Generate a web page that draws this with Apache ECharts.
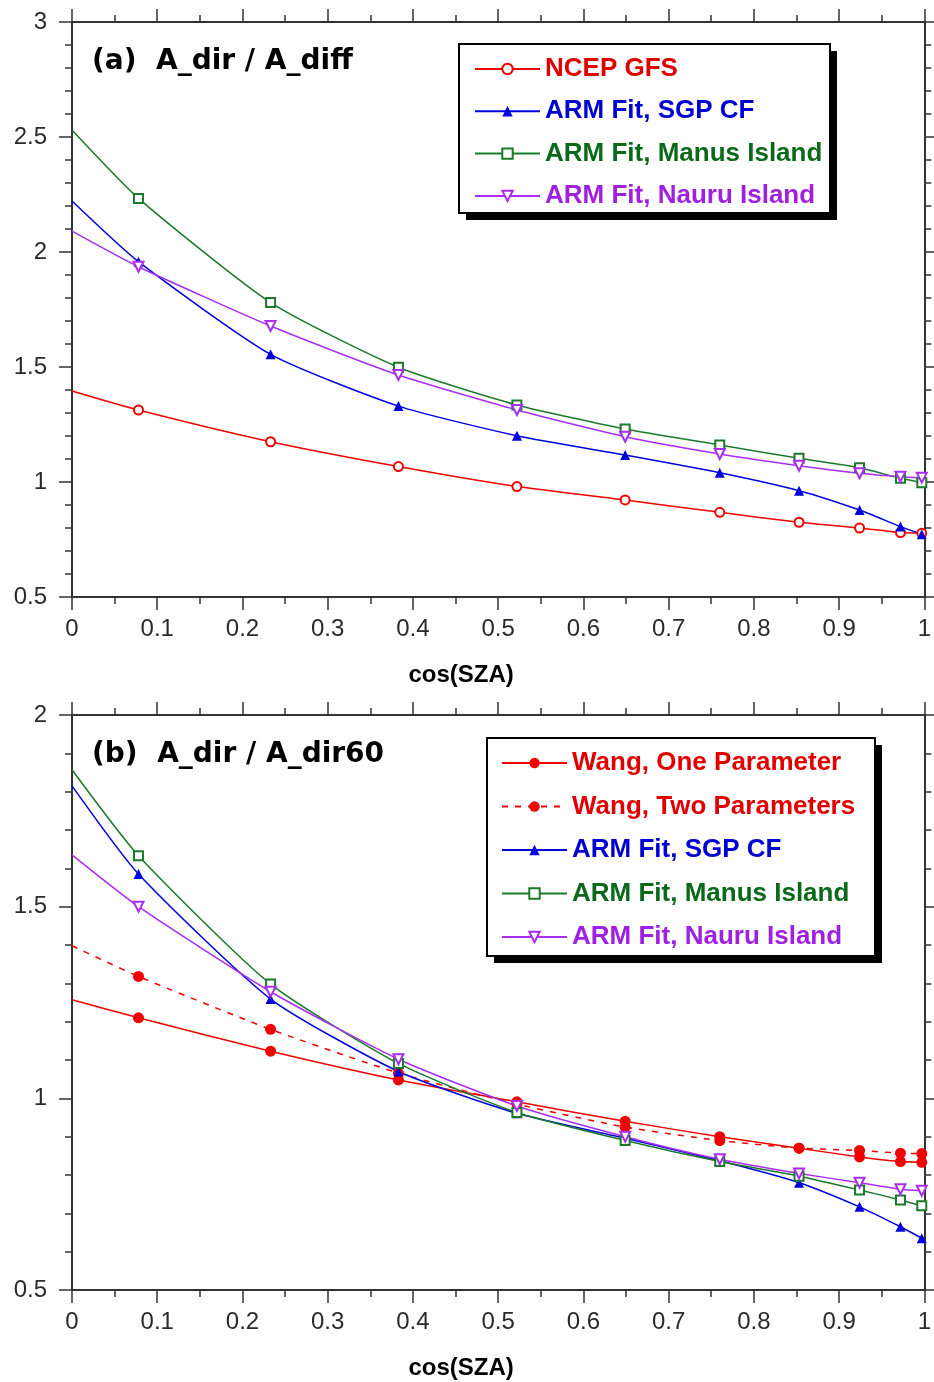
<!DOCTYPE html>
<html>
<head>
<meta charset="utf-8">
<script src="https://cdn.jsdelivr.net/npm/echarts@6/dist/echarts.min.js"></script>
<style>
  html, body { margin: 0; padding: 0; background: #fff; }
  #main { width: 934px; height: 1382px; }
</style>
</head>
<body>
<div id="main"></div>
<script>
// marker positions (cos of SZA), same for every curve
const cosSza = [0.078, 0.233, 0.383, 0.522, 0.649, 0.760, 0.853, 0.924, 0.972, 0.997];

// panel (a): A_dir / A_diff, value at cos(SZA)=0 then marker values
const ncepStartA = 1.396;
const ncepA = [1.313, 1.175, 1.067, 0.980, 0.922, 0.868, 0.825, 0.800, 0.780, 0.777];
const sgpStartA = 2.222;
const sgpA = [1.958, 1.555, 1.330, 1.201, 1.117, 1.040, 0.962, 0.878, 0.806, 0.773];
const manusStartA = 2.530;
const manusA = [2.233, 1.780, 1.499, 1.335, 1.230, 1.161, 1.103, 1.062, 1.016, 0.997];
const nauruStartA = 2.091;
const nauruA = [1.936, 1.678, 1.465, 1.313, 1.197, 1.122, 1.071, 1.038, 1.023, 1.019];

// panel (b): A_dir / A_dir60
const wang1Start = 1.257;
const wang1 = [1.210, 1.123, 1.048, 0.991, 0.940, 0.900, 0.870, 0.847, 0.835, 0.833];
const wang2Start = 1.398;
const wang2 = [1.318, 1.180, 1.066, 0.985, 0.925, 0.890, 0.870, 0.864, 0.857, 0.856];
const sgpStartB = 1.815;
const sgpB = [1.585, 1.259, 1.070, 0.961, 0.896, 0.837, 0.780, 0.717, 0.665, 0.635];
const manusStartB = 1.857;
const manusB = [1.633, 1.298, 1.091, 0.963, 0.890, 0.835, 0.797, 0.761, 0.735, 0.720];
const nauruStartB = 1.635;
const nauruB = [1.500, 1.278, 1.102, 0.980, 0.900, 0.841, 0.804, 0.780, 0.763, 0.759];

const RED = '#f00000', BLUE = '#0000dd', GREEN = '#1a7a2a', PURPLE = '#a82ef0';

// first point (cos=0) has no marker
function curve(start, vals) {
  const d = [{ value: [0, start], symbol: 'none' }];
  vals.forEach((v, i) => d.push([cosSza[i], v]));
  return d;
}

function lineSeries(name, color, symbol, size, start, vals, panel, extra) {
  return Object.assign({
    name: name,
    type: 'line',
    xAxisIndex: panel * 2,
    yAxisIndex: panel * 2,
    data: curve(start, vals),
    smooth: 0.2,
    symbol: symbol,
    symbolSize: size,
    showAllSymbol: true,
    color: color,
    lineStyle: { color: color, width: 1.5 },
    itemStyle: { color: color, borderWidth: 1.5 },
    emphasis: { disabled: true },
    z: 3
  }, extra || {});
}

const axisColor = '#333';
const axisLine = { show: true, onZero: false, lineStyle: { color: axisColor, width: 2 } };
const axisTick = { show: true, length: 13, lineStyle: { color: axisColor, width: 1.5 } };
const labelFont = { fontSize: 24, fontFamily: 'Liberation Sans', color: '#2a2a2a' };

function xAxes(grid) {
  const base = {
    type: 'value', gridIndex: grid, min: 0, max: 1, interval: 0.1,
    axisLine: axisLine, axisTick: axisTick,
    minorTick: { show: true, splitNumber: 2, length: 7, lineStyle: { color: axisColor, width: 1.5 } },
    splitLine: { show: false }
  };
  return [
    Object.assign({}, base, {
      position: 'bottom',
      axisLabel: Object.assign({ margin: 20 }, labelFont),
      name: 'cos(SZA)', nameLocation: 'middle', nameGap: 66,
      nameTextStyle: { fontSize: 24, fontWeight: 'bold', fontFamily: 'Liberation Sans', color: '#000', padding: [0, 74, 0, 0] }
    }),
    Object.assign({}, base, { position: 'top', axisLabel: { show: false } })
  ];
}

function yAxes(grid, max) {
  const base = {
    type: 'value', gridIndex: grid, min: 0.5, max: max, interval: 0.5,
    axisLine: axisLine, axisTick: axisTick,
    minorTick: { show: true, splitNumber: 5, length: 7, lineStyle: { color: axisColor, width: 1.5 } },
    splitLine: { show: false }
  };
  return [
    Object.assign({}, base, { position: 'left', axisLabel: Object.assign({ margin: 25 }, labelFont) }),
    Object.assign({}, base, { position: 'right', axisLabel: { show: false } })
  ];
}

function legendBox(names, colors, left, top, gap) {
  return {
    orient: 'vertical', left: left, top: top,
    data: names.map((n, i) => ({ name: n, textStyle: { color: colors[i] } })),
    itemWidth: 65, itemHeight: 13, itemGap: gap,
    padding: 0,
    selectedMode: false,
    textStyle: { fontSize: 26, fontWeight: 'bold', fontFamily: 'Liberation Sans', lineHeight: 28 }
  };
}

// framed legend background with a hard black drop shadow
function frame(x, y, w, h) {
  return [
    { type: 'rect', z: 1, shape: { x: x + 7, y: y + 7, width: w, height: h }, style: { fill: '#000' } },
    { type: 'rect', z: 2, shape: { x: x, y: y, width: w, height: h }, style: { fill: '#fff', stroke: '#000', lineWidth: 2 } }
  ];
}

const titleFont = { fontSize: 28, fontWeight: 'bold', fontFamily: 'DejaVu Sans', color: '#000' };

const chart = echarts.init(document.getElementById('main'), null, { renderer: 'canvas' });
chart.setOption({
  backgroundColor: '#fff',
  animation: false,
  title: [
    { text: '(a)  A_dir / A_diff', left: 92, top: 48, padding: 0, textStyle: titleFont },
    { text: '(b)  A_dir / A_dir60', left: 92, top: 741, padding: 0, textStyle: titleFont }
  ],
  grid: [
    { left: 72, top: 22, width: 856, height: 575 },
    { left: 72, top: 715, width: 856, height: 575 }
  ],
  xAxis: xAxes(0).concat(xAxes(1)),
  yAxis: yAxes(0, 3).concat(yAxes(1, 2)),
  graphic: frame(459, 44, 371, 169).concat(frame(487, 738, 388, 218)),
  legend: [
    legendBox(['NCEP GFS', 'ARM Fit, SGP CF', 'ARM Fit, Manus Island', 'ARM Fit, Nauru Island'],
      ['#e00000', '#0000d0', '#0a6a1a', '#a020e0'], 474, 55, 14.3),
    legendBox(['Wang, One Parameter', 'Wang, Two Parameters', 'ARM Fit, SGP CF', 'ARM Fit, Manus Island', 'ARM Fit, Nauru Island'],
      ['#e00000', '#e00000', '#0000d0', '#0a6a1a', '#a020e0'], 501, 749, 15.5)
  ],
  series: [
    lineSeries('NCEP GFS', RED, 'emptyCircle', 9, ncepStartA, ncepA, 0),
    lineSeries('ARM Fit, SGP CF', BLUE, 'triangle', 10, sgpStartA, sgpA, 0),
    lineSeries('ARM Fit, Manus Island', GREEN, 'emptyRect', 9, manusStartA, manusA, 0),
    lineSeries('ARM Fit, Nauru Island', PURPLE, 'emptyTriangle', 10, nauruStartA, nauruA, 0, { symbolRotate: 180 }),

    lineSeries('Wang, One Parameter', RED, 'circle', 11, wang1Start, wang1, 1),
    lineSeries('Wang, Two Parameters', RED, 'circle', 11, wang2Start, wang2, 1,
      { lineStyle: { color: RED, width: 1.5, type: [6, 7] } }),
    lineSeries('ARM Fit, SGP CF', BLUE, 'triangle', 10, sgpStartB, sgpB, 1),
    lineSeries('ARM Fit, Manus Island', GREEN, 'emptyRect', 9, manusStartB, manusB, 1),
    lineSeries('ARM Fit, Nauru Island', PURPLE, 'emptyTriangle', 10, nauruStartB, nauruB, 1, { symbolRotate: 180 })
  ]
});
</script>
</body>
</html>
